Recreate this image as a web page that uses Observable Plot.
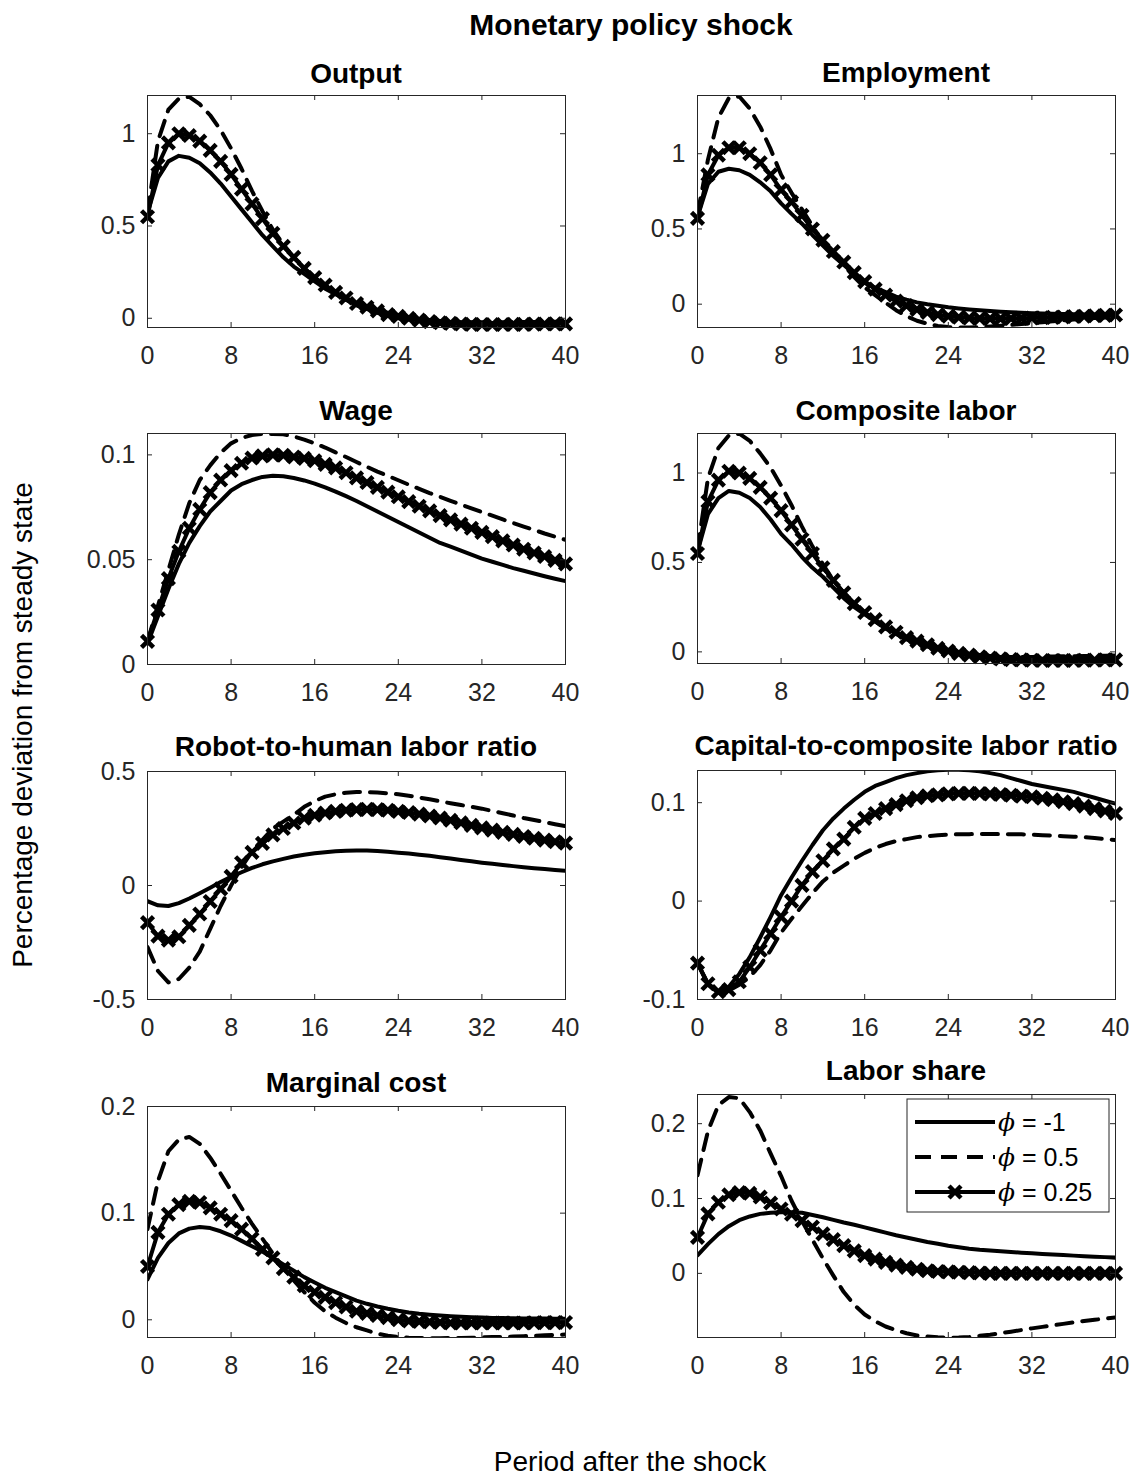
<!DOCTYPE html>
<html><head><meta charset="utf-8">
<script src="https://cdn.jsdelivr.net/npm/d3@7"></script>
<script src="https://cdn.jsdelivr.net/npm/@observablehq/plot@0.6"></script>
<style>
html,body{margin:0;padding:0;background:#fff;overflow:hidden;}
#root{position:relative;width:1135px;height:1479px;font-family:"Liberation Sans",Arial,Helvetica,sans-serif;overflow:hidden;}
.panel{position:absolute;}
.panel svg{overflow:visible;max-width:none !important;}
#overlay{position:absolute;left:0;top:0;pointer-events:none;}
</style></head><body><div id="root"></div>
<script>
// ---------- data ----------
const periods = [0,1,2,3,4,5,6,7,8,9,10,11,12,13,14,15,16,17,18,19,20,21,22,23,24,25,26,27,28,29,30,31,32,33,34,35,36,37,38,39,40];
const xTicks = [0,8,16,24,32,40];
const seriesLabels = ["-1","0.5","0.25"];

const outputSolid  = [0.57,0.76,0.85,0.88,0.87,0.84,0.79,0.73,0.66,0.59,0.52,0.45,0.39,0.33,0.28,0.24,0.2,0.16,0.13,0.1,0.08,0.06,0.04,0.03,0.015,0.005,-0.005,-0.01,-0.015,-0.02,-0.022,-0.024,-0.025,-0.026,-0.027,-0.027,-0.027,-0.027,-0.027,-0.027,-0.027];
const outputDashed = [0.57,0.96,1.13,1.19,1.2,1.16,1.1,1.02,0.92,0.81,0.69,0.58,0.48,0.4,0.33,0.27,0.22,0.17,0.13,0.1,0.07,0.05,0.03,0.015,0.0,-0.008,-0.014,-0.018,-0.02,-0.021,-0.022,-0.022,-0.022,-0.021,-0.021,-0.02,-0.02,-0.02,-0.019,-0.019,-0.019];
const outputMarked = [0.55,0.83,0.95,1.0,0.99,0.96,0.91,0.85,0.78,0.7,0.62,0.54,0.46,0.39,0.33,0.27,0.22,0.18,0.14,0.11,0.08,0.06,0.04,0.02,0.01,0.0,-0.01,-0.018,-0.024,-0.028,-0.031,-0.033,-0.034,-0.034,-0.034,-0.033,-0.033,-0.032,-0.031,-0.03,-0.03];

const emplSolid  = [0.58,0.8,0.88,0.9,0.89,0.86,0.81,0.75,0.67,0.6,0.535,0.46,0.39,0.32,0.26,0.2,0.15,0.11,0.08,0.05,0.03,0.012,0.0,-0.01,-0.02,-0.028,-0.035,-0.041,-0.046,-0.05,-0.054,-0.057,-0.06,-0.062,-0.064,-0.066,-0.067,-0.068,-0.069,-0.07,-0.07];
const emplDashed = [0.6,0.96,1.24,1.37,1.38,1.3,1.18,1.03,0.86,0.74,0.63,0.52,0.41,0.33,0.26,0.18,0.11,0.06,0.01,-0.04,-0.08,-0.11,-0.13,-0.145,-0.152,-0.155,-0.155,-0.152,-0.148,-0.143,-0.138,-0.132,-0.126,-0.12,-0.114,-0.108,-0.102,-0.097,-0.092,-0.088,-0.085];
const emplMarked = [0.57,0.86,0.99,1.04,1.04,1.0,0.94,0.86,0.76,0.68,0.59,0.5,0.425,0.35,0.28,0.21,0.15,0.1,0.06,0.02,-0.01,-0.035,-0.055,-0.07,-0.08,-0.087,-0.092,-0.095,-0.096,-0.096,-0.095,-0.094,-0.092,-0.09,-0.088,-0.085,-0.082,-0.08,-0.077,-0.074,-0.072];

const wageSolid  = [0.01,0.023,0.036,0.048,0.058,0.066,0.073,0.078,0.083,0.086,0.088,0.0895,0.09,0.0898,0.089,0.0878,0.0863,0.0845,0.0825,0.0803,0.078,0.0755,0.073,0.0705,0.068,0.0655,0.063,0.0605,0.058,0.0562,0.0543,0.0524,0.0505,0.049,0.0475,0.046,0.0447,0.0434,0.0421,0.0409,0.0398];
const wageDashed = [0.011,0.028,0.045,0.062,0.077,0.088,0.095,0.101,0.1055,0.108,0.1095,0.11,0.11,0.1098,0.1088,0.1073,0.1055,0.1035,0.1012,0.099,0.0966,0.0943,0.092,0.09,0.0879,0.0858,0.0838,0.0818,0.08,0.0781,0.0763,0.0745,0.0727,0.071,0.0692,0.0675,0.0658,0.0642,0.0625,0.061,0.0595];
const wageMarked = [0.011,0.026,0.041,0.054,0.065,0.074,0.082,0.088,0.0925,0.096,0.0985,0.0995,0.1,0.0998,0.099,0.0983,0.0972,0.0955,0.0938,0.0915,0.089,0.0868,0.0845,0.0822,0.08,0.0777,0.0755,0.0733,0.071,0.069,0.067,0.065,0.063,0.061,0.059,0.057,0.055,0.0532,0.0515,0.0497,0.048];

const compSolid  = [0.56,0.77,0.86,0.9,0.89,0.86,0.81,0.74,0.66,0.6,0.53,0.47,0.42,0.36,0.3,0.25,0.21,0.17,0.135,0.105,0.084,0.062,0.042,0.025,0.01,0.0,-0.01,-0.017,-0.023,-0.028,-0.032,-0.035,-0.037,-0.039,-0.04,-0.041,-0.041,-0.042,-0.042,-0.042,-0.042];
const compDashed = [0.57,0.97,1.14,1.21,1.22,1.18,1.11,1.03,0.93,0.82,0.7,0.59,0.49,0.4,0.33,0.27,0.22,0.17,0.13,0.1,0.07,0.05,0.03,0.015,0.0,-0.01,-0.018,-0.023,-0.026,-0.028,-0.029,-0.029,-0.028,-0.027,-0.026,-0.025,-0.024,-0.023,-0.022,-0.021,-0.02];
const compMarked = [0.55,0.84,0.96,1.01,1.0,0.97,0.92,0.86,0.79,0.71,0.63,0.55,0.47,0.4,0.33,0.27,0.22,0.18,0.14,0.11,0.08,0.06,0.04,0.02,0.005,-0.008,-0.018,-0.027,-0.034,-0.039,-0.043,-0.045,-0.047,-0.048,-0.048,-0.048,-0.048,-0.047,-0.046,-0.045,-0.045];

const robotSolid  = [-0.069,-0.087,-0.09,-0.077,-0.057,-0.034,-0.01,0.015,0.038,0.058,0.077,0.093,0.106,0.117,0.127,0.135,0.141,0.146,0.15,0.152,0.153,0.153,0.151,0.148,0.144,0.14,0.135,0.13,0.124,0.118,0.112,0.106,0.1,0.095,0.09,0.085,0.08,0.076,0.072,0.068,0.064];
const robotDashed = [-0.27,-0.375,-0.425,-0.41,-0.36,-0.29,-0.19,-0.09,0.0,0.08,0.15,0.2,0.25,0.28,0.31,0.345,0.37,0.39,0.4,0.407,0.41,0.41,0.408,0.404,0.4,0.394,0.386,0.378,0.369,0.361,0.353,0.345,0.337,0.327,0.317,0.307,0.296,0.287,0.278,0.269,0.26];
const robotMarked = [-0.163,-0.222,-0.24,-0.225,-0.175,-0.125,-0.07,-0.015,0.04,0.1,0.145,0.185,0.222,0.25,0.274,0.295,0.308,0.318,0.325,0.33,0.333,0.334,0.333,0.33,0.325,0.32,0.313,0.305,0.296,0.286,0.275,0.264,0.253,0.243,0.233,0.224,0.215,0.207,0.199,0.192,0.186];

const capSolid  = [-0.063,-0.084,-0.092,-0.087,-0.074,-0.057,-0.037,-0.016,0.006,0.024,0.041,0.057,0.072,0.084,0.094,0.103,0.111,0.117,0.121,0.125,0.128,0.13,0.132,0.133,0.1335,0.1335,0.133,0.132,0.13,0.128,0.125,0.122,0.119,0.117,0.115,0.113,0.111,0.108,0.105,0.102,0.099];
const capDashed = [-0.063,-0.085,-0.093,-0.091,-0.085,-0.077,-0.065,-0.05,-0.032,-0.018,-0.005,0.008,0.02,0.029,0.036,0.043,0.049,0.054,0.058,0.061,0.063,0.065,0.066,0.067,0.0675,0.068,0.068,0.0682,0.0682,0.068,0.068,0.0678,0.0675,0.067,0.0665,0.066,0.0655,0.065,0.064,0.063,0.062];
const capMarked = [-0.063,-0.084,-0.092,-0.09,-0.082,-0.067,-0.05,-0.033,-0.016,0.0,0.016,0.03,0.041,0.053,0.063,0.075,0.084,0.089,0.094,0.098,0.102,0.105,0.107,0.108,0.109,0.1095,0.1095,0.1093,0.109,0.1083,0.1075,0.1067,0.106,0.1045,0.103,0.101,0.099,0.0965,0.094,0.0915,0.089];

const mcSolid  = [0.038,0.058,0.072,0.081,0.0855,0.087,0.086,0.083,0.079,0.074,0.069,0.064,0.058,0.052,0.046,0.04,0.035,0.03,0.026,0.022,0.018,0.015,0.0125,0.0103,0.0084,0.0069,0.0057,0.0048,0.004,0.0034,0.0029,0.0025,0.0021,0.0018,0.0016,0.0014,0.0013,0.0012,0.0011,0.001,0.001];
const mcDashed = [0.085,0.13,0.158,0.169,0.1715,0.165,0.152,0.137,0.121,0.105,0.09,0.076,0.062,0.049,0.037,0.026,0.016,0.008,0.002,-0.003,-0.007,-0.01,-0.013,-0.015,-0.016,-0.0168,-0.017,-0.0172,-0.0172,-0.0171,-0.017,-0.0168,-0.0165,-0.0162,-0.016,-0.0157,-0.0154,-0.015,-0.0146,-0.0142,-0.0138];
const mcMarked = [0.05,0.082,0.099,0.108,0.111,0.11,0.105,0.099,0.093,0.085,0.076,0.066,0.058,0.048,0.04,0.032,0.026,0.021,0.016,0.012,0.008,0.006,0.004,0.002,0.0,-0.001,-0.0015,-0.002,-0.0025,-0.003,-0.003,-0.003,-0.003,-0.003,-0.003,-0.003,-0.003,-0.0028,-0.0027,-0.0026,-0.0025];

const lsSolid  = [0.024,0.039,0.0525,0.063,0.071,0.076,0.0795,0.081,0.0815,0.0815,0.081,0.078,0.075,0.0715,0.068,0.065,0.0615,0.058,0.0545,0.051,0.048,0.045,0.042,0.0395,0.037,0.035,0.033,0.0315,0.0304,0.0295,0.0285,0.0276,0.0268,0.026,0.0252,0.0245,0.0237,0.023,0.0223,0.0217,0.021];
const lsDashed = [0.131,0.19,0.225,0.2356,0.234,0.2155,0.191,0.16,0.13,0.097,0.07,0.045,0.02,-0.003,-0.025,-0.042,-0.055,-0.064,-0.071,-0.076,-0.08,-0.083,-0.0845,-0.0855,-0.086,-0.0858,-0.085,-0.0835,-0.082,-0.08,-0.078,-0.0757,-0.0735,-0.0715,-0.0695,-0.0675,-0.0655,-0.0637,-0.062,-0.0605,-0.059];
const lsMarked = [0.048,0.0795,0.095,0.105,0.108,0.107,0.102,0.094,0.086,0.079,0.0705,0.062,0.0527,0.045,0.037,0.03,0.0237,0.019,0.0147,0.011,0.008,0.0055,0.0035,0.0025,0.002,0.0015,0.001,0.0005,0.0,0.0,0.0,0.0,0.0,0.0,0.0,0.0,0.0,0.0,0.0,0.0,0.0];

// ---------- layout ----------
const INK = "#262626";
const FONT = '"Liberation Sans", Arial, Helvetica, sans-serif';
const colX = [[147,565],[697,1115]];
const panels = [
  {title:"Output", s:outputSolid, d:outputDashed, m:outputMarked, domain:[-0.05,1.207], ticks:[0,0.5,1], col:0, top:95, bottom:327, titleY:82.5},
  {title:"Employment", s:emplSolid, d:emplDashed, m:emplMarked, domain:[-0.155,1.387], ticks:[0,0.5,1], col:1, top:95, bottom:327, titleY:82},
  {title:"Wage", s:wageSolid, d:wageDashed, m:wageMarked, domain:[0,0.1102], ticks:[0,0.05,0.1], col:0, top:433, bottom:664, titleY:419.5},
  {title:"Composite labor", s:compSolid, d:compDashed, m:compMarked, domain:[-0.065,1.221], ticks:[0,0.5,1], col:1, top:433, bottom:663, titleY:420},
  {title:"Robot-to-human labor ratio", s:robotSolid, d:robotDashed, m:robotMarked, domain:[-0.5,0.5], ticks:[-0.5,0,0.5], col:0, top:771, bottom:999, titleY:755.5},
  {title:"Capital-to-composite labor ratio", s:capSolid, d:capDashed, m:capMarked, domain:[-0.1,0.1327], ticks:[-0.1,0,0.1], col:1, top:770, bottom:999, titleY:755},
  {title:"Marginal cost", s:mcSolid, d:mcDashed, m:mcMarked, domain:[-0.0166,0.2], ticks:[0,0.1,0.2], col:0, top:1106, bottom:1337, titleY:1091.5},
  {title:"Labor share", s:lsSolid, d:lsDashed, m:lsMarked, domain:[-0.0857,0.239], ticks:[0,0.1,0.2], col:1, top:1094, bottom:1337, titleY:1079.5}
];

const root = document.getElementById("root");
const mL = 90, mR = 16, mT = 15, mB = 60;
const LW = 4, DASH = "16,10", TICK = 5;
const MR = 5.5, MSW = 4.5;

panels.forEach(p => {
  const [x0, x1] = colX[p.col];
  const pw = x1 - x0, ph = p.bottom - p.top;
  const W = pw + mL + mR, H = ph + mT + mB;
  const rows = periods.map((t, i) => ({t, solid: p.s[i], dashed: p.d[i], marked: p.m[i]}));
  const chart = Plot.plot({
    width: W, height: H,
    marginLeft: mL, marginRight: mR, marginTop: mT, marginBottom: mB,
    x: {domain: [0, 40]},
    y: {domain: p.domain},
    style: {background: "transparent", fontFamily: FONT, overflow: "visible", maxWidth: "none"},
    marks: [
      Plot.line(rows, {x: "t", y: "solid", stroke: "#000", strokeWidth: LW, clip: true}),
      Plot.line(rows, {x: "t", y: "dashed", stroke: "#000", strokeWidth: LW, strokeDasharray: DASH, clip: true}),
      Plot.line(rows, {x: "t", y: "marked", stroke: "#000", strokeWidth: LW, clip: true}),
      Plot.dot(rows, {x: "t", y: "marked", symbol: "times", r: MR, stroke: "#000", strokeWidth: MSW, fill: "none"}),
      Plot.frame({stroke: INK, strokeWidth: 1}),
      Plot.tickX(xTicks, {x: d => d, stroke: INK, strokeWidth: 1, insetTop: ph - TICK}),
      Plot.tickX(xTicks, {x: d => d, stroke: INK, strokeWidth: 1, insetBottom: ph - TICK}),
      Plot.tickY(p.ticks, {y: d => d, stroke: INK, strokeWidth: 1, insetRight: pw - TICK}),
      Plot.tickY(p.ticks, {y: d => d, stroke: INK, strokeWidth: 1, insetLeft: pw - TICK}),
      Plot.axisX({ticks: xTicks, tickSize: 0, tickPadding: 19, fontSize: 25, tickFormat: d => String(d), label: null, fill: INK}),
      Plot.axisY({ticks: p.ticks, tickSize: 0, tickPadding: 12, fontSize: 25, tickFormat: d => String(d), label: null, fill: INK})
    ]
  });
  chart.style.maxWidth = "none";
  const div = document.createElement("div");
  div.className = "panel";
  div.style.left = (x0 - mL) + "px";
  div.style.top = (p.top - mT) + "px";
  div.style.width = W + "px";
  div.style.height = H + "px";
  div.appendChild(chart);
  root.appendChild(div);
});

// ---------- overlay: titles, labels, legend ----------
const svg = d3.select(root).append("svg").attr("id", "overlay")
  .attr("width", 1135).attr("height", 1479).attr("font-family", FONT);

svg.append("text").attr("x", 631).attr("y", 35).attr("text-anchor", "middle")
  .attr("font-size", 30).attr("font-weight", "bold").attr("fill", "#000").text("Monetary policy shock");

panels.forEach(p => {
  const [x0, x1] = colX[p.col];
  svg.append("text").attr("x", (x0 + x1) / 2).attr("y", p.titleY).attr("text-anchor", "middle")
    .attr("font-size", 28).attr("font-weight", "bold").attr("fill", "#000").text(p.title);
});

svg.append("text").attr("transform", "translate(31.5,725) rotate(-90)").attr("text-anchor", "middle")
  .attr("font-size", 28).attr("fill", "#000").text("Percentage deviation from steady state");
svg.append("text").attr("x", 630).attr("y", 1471).attr("text-anchor", "middle")
  .attr("font-size", 28).attr("fill", "#000").text("Period after the shock");

// legend
const lg = svg.append("g");
lg.append("rect").attr("x", 907).attr("y", 1099).attr("width", 202).attr("height", 113)
  .attr("fill", "#fff").attr("stroke", INK).attr("stroke-width", 1);
const styles = [{dash: null, marker: false}, {dash: DASH, marker: false}, {dash: null, marker: true}];
seriesLabels.forEach((lab, i) => {
  const y = 1122 + i * 35;
  const ln = lg.append("line").attr("x1", 915).attr("x2", 995).attr("y1", y).attr("y2", y)
    .attr("stroke", "#000").attr("stroke-width", LW);
  if (styles[i].dash) ln.attr("stroke-dasharray", styles[i].dash);
  if (styles[i].marker) {
    lg.append("path").attr("d", d3.symbol(d3.symbolTimes, Math.PI * MR * MR)())
      .attr("transform", `translate(955,${y})`).attr("stroke", "#000").attr("stroke-width", MSW).attr("fill", "none");
  }
  const t = lg.append("text").attr("x", 998).attr("y", y + 9).attr("font-size", 25).attr("fill", "#000");
  t.append("tspan").attr("font-family", '"DejaVu Serif", serif').attr("font-style", "italic").text("\u03D5");
  t.append("tspan").text(" = " + lab);
});
</script></body></html>
